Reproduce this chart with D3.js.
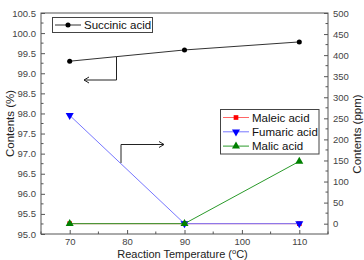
<!DOCTYPE html>
<html>
<head>
<meta charset="utf-8">
<script src="https://cdn.jsdelivr.net/npm/d3@7"></script>
<style>
  body { margin: 0; background: #fff; }
  svg { display: block; font-family: Arial, "Liberation Sans", sans-serif; }
</style>
</head>
<body>
<div id="chart"></div>
<script>
const temps = [70, 90, 110];
const succinic = [99.3, 99.58, 99.78];   // %, left axis
const maleic = [0, 0, 0];                // ppm, right axis
const fumaric = [257, 0, 0];
const malic = [0, 0, 148];

const leftTicks = d3.range(95, 100.51, 0.5);
const rightTicks = d3.range(0, 501, 50);
const xTicks = [70, 80, 90, 100, 110];

const W = 364, H = 260;
const plot = { left: 41, right: 328, top: 13, bottom: 234 };

const svg = d3.select("#chart").append("svg")
    .attr("width", W)
    .attr("height", H);

const x = d3.scaleLinear().domain([65, 115]).range([plot.left, plot.right]);
const yL = d3.scaleLinear().domain([95, 100.5]).range([plot.bottom, plot.top]);
const yR = d3.scaleLinear().domain([-24.5, 500]).range([plot.bottom, plot.top]);

const axisColor = "#555";
const labelColor = "#444";

// frame
svg.append("rect")
    .attr("x", plot.left).attr("y", plot.top)
    .attr("width", plot.right - plot.left)
    .attr("height", plot.bottom - plot.top)
    .attr("fill", "none")
    .attr("stroke", axisColor)
    .attr("stroke-width", 1);

function styleAxis(g) {
  g.select(".domain").remove();
  g.selectAll(".tick line").attr("stroke", axisColor);
  g.selectAll(".tick text").attr("fill", labelColor).style("font-size", "9.5px");
}

// left axis (ticks inward)
const gL = svg.append("g").attr("transform", `translate(${plot.left},0)`);
gL.call(d3.axisLeft(yL).tickValues(leftTicks).tickFormat(d3.format(".1f")).tickSizeInner(-4).tickPadding(5));
styleAxis(gL);
gL.selectAll(".minor").data(d3.range(95.25, 100.5, 0.5)).enter().append("line")
    .attr("x1", 0).attr("x2", 2.5)
    .attr("y1", d => yL(d)).attr("y2", d => yL(d))
    .attr("stroke", axisColor);

// right axis (ticks inward)
const gR = svg.append("g").attr("transform", `translate(${plot.right},0)`);
gR.call(d3.axisRight(yR).tickValues(rightTicks).tickSizeInner(-4).tickPadding(5));
styleAxis(gR);
gR.selectAll(".minor").data(d3.range(25, 500, 50)).enter().append("line")
    .attr("x1", 0).attr("x2", -2.5)
    .attr("y1", d => yR(d)).attr("y2", d => yR(d))
    .attr("stroke", axisColor);

// bottom axis (ticks inward)
const gB = svg.append("g").attr("transform", `translate(0,${plot.bottom})`);
gB.call(d3.axisBottom(x).tickValues(xTicks).tickSizeInner(-4).tickPadding(4));
styleAxis(gB);
gB.selectAll(".minor").data([65, 75, 85, 95, 105, 115]).enter().append("line")
    .attr("x1", d => x(d)).attr("x2", d => x(d))
    .attr("y1", 0).attr("y2", -2.5)
    .attr("stroke", axisColor);

// axis titles
svg.append("text")
    .attr("transform", `translate(14,${(plot.top + plot.bottom) / 2}) rotate(-90)`)
    .attr("text-anchor", "middle")
    .style("font-size", "11.5px")
    .attr("fill", "#222")
    .text("Contents (%)");

svg.append("text")
    .attr("transform", `translate(361,134) rotate(-90)`)
    .attr("text-anchor", "middle")
    .style("font-size", "11.5px")
    .attr("fill", "#222")
    .text("Contents (ppm)");

const xt = svg.append("text")
    .attr("x", (plot.left + plot.right) / 2 - 2)
    .attr("y", 257.5)
    .attr("text-anchor", "middle")
    .style("font-size", "11px")
    .attr("fill", "#222");
xt.append("tspan").text("Reaction Temperature (");
xt.append("tspan").attr("dy", -4).style("font-size", "7.5px").text("o");
xt.append("tspan").attr("dy", 4).text("C)");

// series
const series = [
  { name: "Maleic acid", vals: maleic, y: yR, line: "#ff6666", color: "#ff0000", shape: "square" },
  { name: "Fumaric acid", vals: fumaric, y: yR, line: "#7777ff", color: "#0000ff", shape: "down" },
  { name: "Malic acid", vals: malic, y: yR, line: "#2a9a2a", color: "#008000", shape: "up" },
  { name: "Succinic acid", vals: succinic, y: yL, line: "#333", color: "#000", shape: "circle" }
];

const symbols = {
  square: d3.symbol().type(d3.symbolSquare).size(22),
  circle: d3.symbol().type(d3.symbolCircle).size(20),
  up: d3.symbol().type(d3.symbolTriangle).size(28),
  down: d3.symbol().type(d3.symbolTriangle).size(28)
};

function marker(g, s, cx, cy) {
  g.append("path")
    .attr("d", symbols[s.shape]())
    .attr("transform", `translate(${cx},${cy})` + (s.shape === "down" ? " rotate(180)" : ""))
    .attr("fill", s.color);
}

series.forEach(s => {
  const pts = temps.map((t, i) => [x(t), s.y(s.vals[i])]);
  svg.append("path")
      .attr("d", d3.line()(pts))
      .attr("fill", "none")
      .attr("stroke", s.line)
      .attr("stroke-width", 1);
  const g = svg.append("g");
  pts.forEach(p => marker(g, s, p[0], p[1]));
});

// arrows
const arrowColor = "#222";
svg.append("path")
    .attr("d", `M116.5,57 V80 H84`)
    .attr("fill", "none").attr("stroke", arrowColor).attr("stroke-width", 1);
svg.append("path")
    .attr("d", `M89,77 L84,80 L89,83`)
    .attr("fill", "none").attr("stroke", arrowColor).attr("stroke-width", 1);
svg.append("path")
    .attr("d", `M121,163 V144.5 H164`)
    .attr("fill", "none").attr("stroke", arrowColor).attr("stroke-width", 1);
svg.append("path")
    .attr("d", `M159,141.5 L164,144.5 L159,147.5`)
    .attr("fill", "none").attr("stroke", arrowColor).attr("stroke-width", 1);

// legend 1
const succ = series[3];
svg.append("rect")
    .attr("x", 52.5).attr("y", 17.5).attr("width", 100).attr("height", 15)
    .attr("fill", "#fff").attr("stroke", "#444");
svg.append("line")
    .attr("x1", 55).attr("x2", 81).attr("y1", 25).attr("y2", 25)
    .attr("stroke", succ.line);
marker(svg, succ, 68, 25);
svg.append("text")
    .attr("x", 84).attr("y", 29)
    .style("font-size", "11.5px").attr("fill", "#111")
    .text(succ.name);

// legend 2
svg.append("rect")
    .attr("x", 220.5).attr("y", 109.5).attr("width", 98.5).attr("height", 44.5)
    .attr("fill", "#fff").attr("stroke", "#444");
series.slice(0, 3).forEach((s, i) => {
  const cy = 117.5 + i * 14.3;
  svg.append("line")
      .attr("x1", 223).attr("x2", 249).attr("y1", cy).attr("y2", cy)
      .attr("stroke", s.line);
  marker(svg, s, 236, cy);
  svg.append("text")
      .attr("x", 252).attr("y", cy + 4)
      .style("font-size", "11.5px").attr("fill", "#111")
      .text(s.name);
});
</script>
</body>
</html>
